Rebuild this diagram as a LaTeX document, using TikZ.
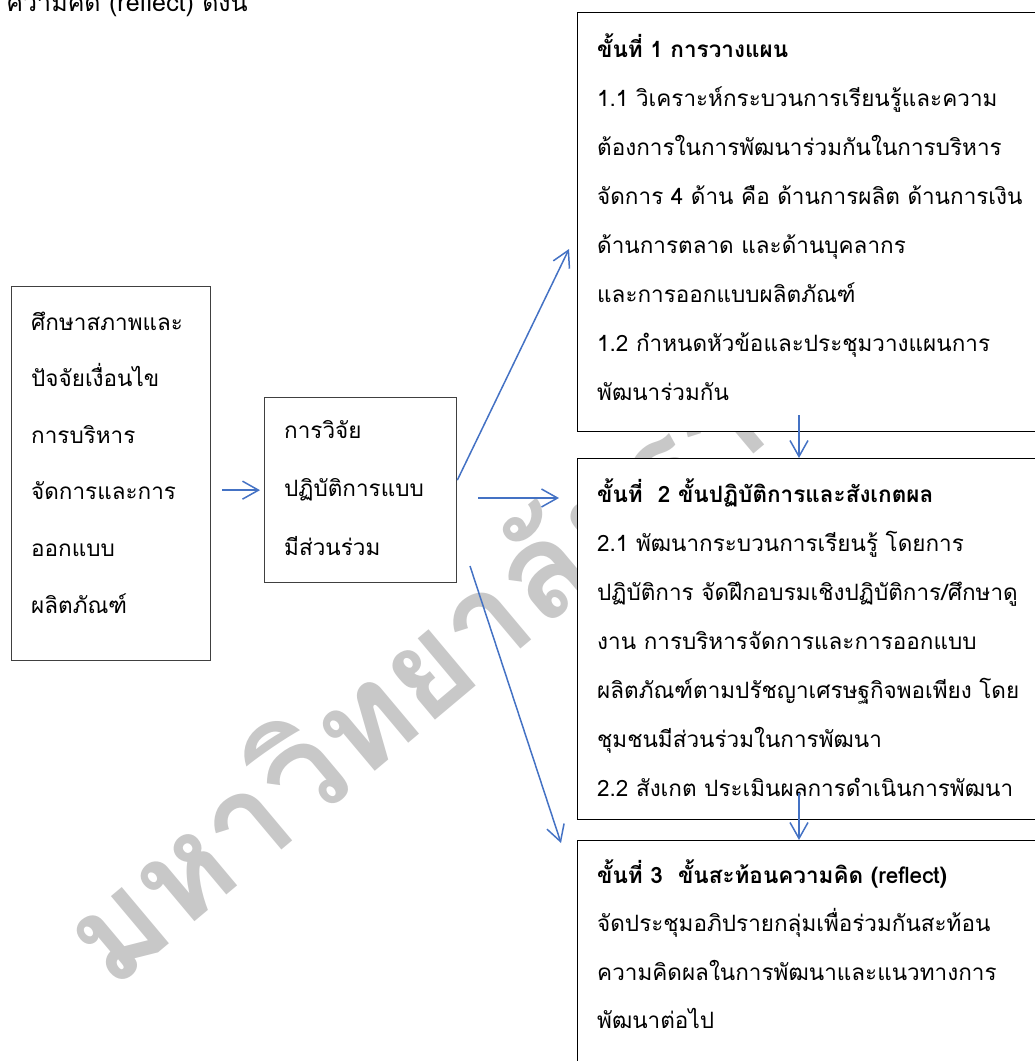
\documentclass[tikz,border=0pt]{standalone}
\usepackage{fontspec}
\newfontfamily\thaifont[Script=Thai]{Loma}
\usetikzlibrary{arrows.meta,positioning,calc}
\definecolor{flowblue}{RGB}{68,114,196}
\definecolor{markgray}{RGB}{200,200,200}

\begin{document}
\begin{tikzpicture}[x=1pt, y=-1pt,
    % --- Box styles ---
    outer frame/.style={draw=black!75, line width=1.3pt, fill=white,
                        anchor=north west, inner sep=0pt},
    stage frame/.style={draw=black, line width=1.2pt, fill=white,
                        anchor=north west, inner sep=0pt},
    % --- Text styles ---
    line text/.style={anchor=base west, inner sep=0pt,
                      font=\thaifont\fontsize{22.5}{26}\selectfont},
    head text/.style={line text, font=\thaifont\bfseries\fontsize{22.5}{26}\selectfont},
    % --- Arrow style ---
    flow/.style={draw=flowblue, line width=1.5pt,
                 -{Straight Barb[length=16pt, width=18pt]}},
    watermark/.style={anchor=base west, inner sep=0pt, text=markgray, rotate=40,
                      font=\thaifont\bfseries\fontsize{132}{132}\selectfont},
]
\useasboundingbox (0,0) rectangle (1035,1061);
\clip (0,0) rectangle (1035,1061);

% ============================================================
% Background mark and the cut line above the figure
% ============================================================
\node[watermark] (mark) at (112,992) {มหาวิทยาลัยราชภัฏ};
\node[line text, anchor=base east, font=\thaifont\fontsize{25}{28}\selectfont]
  (intro) at (248,11) {ความคิด (reflect)  ดังนี้};

% ============================================================
% Left side: study box and research box
% ============================================================
\node[outer frame, minimum width=199pt, minimum height=374pt] (study) at (11,286) {};
\foreach \t [count=\i from 0] in {{ศึกษาสภาพและ}, {ปัจจัยเงื่อนไข}, {การบริหาร},
    {จัดการและการ}, {ออกแบบ}, {ผลิตภัณฑ์}}
  \node[line text] (study-\i) at (31, 330+56.6*\i) {\t};

\node[outer frame, minimum width=192pt, minimum height=185pt] (par) at (264,397) {};
\foreach \t [count=\i from 0] in {{การวิจัย}, {ปฏิบัติการแบบ}, {มีส่วนร่วม}}
  \node[line text] (par-\i) at (284, 438+58.5*\i) {\t};

% ============================================================
% Right side: the three steps
% ============================================================
% --- Step 1 ---
\node[stage frame, minimum width=480pt, minimum height=419pt] (plan) at (577,12) {};
\node[head text] (plan-h) at (597,57) {ขั้นที่ 1 การวางแผน};
\foreach \t [count=\i] in {{1.1 วิเคราะห์กระบวนการเรียนรู้และความ},
    {ต้องการในการพัฒนาร่วมกันในการบริหาร},
    {จัดการ 4 ด้าน คือ ด้านการผลิต ด้านการเงิน},
    {ด้านการตลาด และด้านบุคลากร},
    {และการออกแบบผลิตภัณฑ์},
    {1.2 กำหนดหัวข้อและประชุมวางแผนการ},
    {พัฒนาร่วมกัน}}
  \node[line text] (plan-\i) at (597, 57+49*\i) {\t};

% --- Step 2 ---
\node[stage frame, minimum width=480pt, minimum height=361pt] (act) at (577,458) {};
\node[head text] (act-h) at (597,502) {ขั้นที่\ \ 2 ขั้นปฏิบัติการและสังเกตผล};
\foreach \t [count=\i] in {{2.1 พัฒนากระบวนการเรียนรู้ โดยการ},
    {ปฏิบัติการ จัดฝึกอบรมเชิงปฏิบัติการ/ศึกษาดู},
    {งาน การบริหารจัดการและการออกแบบ},
    {ผลิตภัณฑ์ตามปรัชญาเศรษฐกิจพอเพียง โดย},
    {ชุมชนมีส่วนร่วมในการพัฒนา},
    {2.2 สังเกต ประเมินผลการดำเนินการพัฒนา}}
  \node[line text] (act-\i) at (597, 502+49*\i) {\t};

% --- Step 3 ---
\node[stage frame, minimum width=480pt, minimum height=300pt] (reflect) at (577,840) {};
\node[head text] (reflect-h) at (597,883) {ขั้นที่ 3\ \ ขั้นสะท้อนความคิด (reflect)};
\foreach \t [count=\i] in {{จัดประชุมอภิปรายกลุ่มเพื่อร่วมกันสะท้อน},
    {ความคิดผลในการพัฒนาและแนวทางการ},
    {พัฒนาต่อไป}}
  \node[line text] (reflect-\i) at (597, 883+48.5*\i) {\t};

% ============================================================
% Arrows
% ============================================================
\coordinate (plan tip)    at (569,249);
\coordinate (act tail)    at (478,498);
\coordinate (act tip)     at (559,498);
\coordinate (down tail)   at (470,566);
\coordinate (reflect tip) at (561,843);
\coordinate (step12)      at (799,415);
\coordinate (step23)      at (799,793);

\draw[flow, shorten <=11pt, shorten >=4pt] (study.east |- par.west) -- (par.west);
\draw[flow] ([yshift=10pt]par.east) -- (plan tip);
\draw[flow] (act tail) -- (act tip);
\draw[flow] (down tail) -- (reflect tip);
\draw[flow] (step12) -- (act.north -| step12);
\draw[flow] (step23) -- (reflect.north -| step23);

\end{tikzpicture}
\end{document}
